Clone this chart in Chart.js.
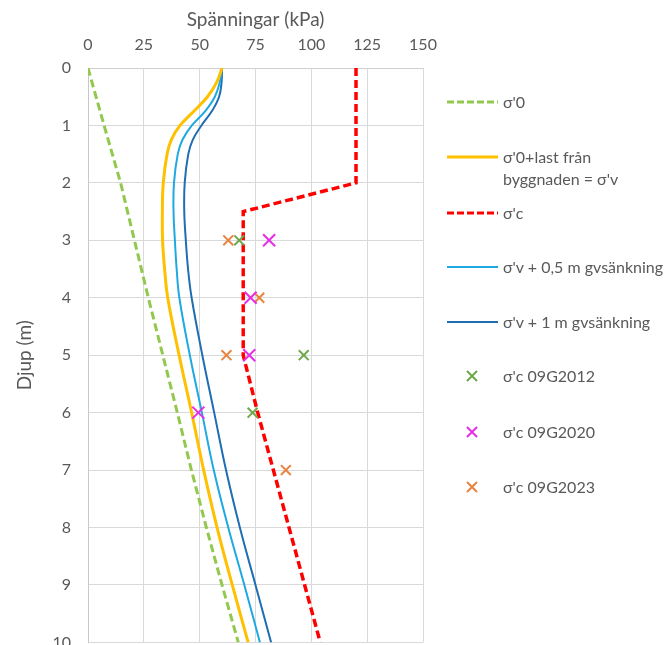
<!DOCTYPE html>
<html>
<head>
<meta charset="utf-8">
<script src="https://cdn.jsdelivr.net/npm/chart.js@4"></script>
<style>
  body { margin: 0; overflow: hidden; background: #fff; font-family: Lato, sans-serif; color: #595959; }
  #wrap { position: relative; width: 669px; height: 645px; overflow: hidden; }
  #chart { position: absolute; left: 0; top: 0; }
  .lg { position: absolute; left: 446px; height: 20px; font-size: 16px; line-height: 22px; white-space: nowrap; }
  .lg svg { position: absolute; left: 0; top: 0; }
  .lg span { position: absolute; left: 57px; top: 0; }
</style>
</head>
<body>
<div id="wrap">
  <canvas id="chart" width="669" height="669"></canvas>

  <div class="lg" style="top:91px">
    <svg width="54" height="22"><line x1="1" y1="11" x2="52" y2="11" stroke="#92c84e" stroke-width="3" stroke-dasharray="7,3"/></svg>
    <span>σ'0</span>
  </div>
  <div class="lg" style="top:146px">
    <svg width="54" height="22"><line x1="1" y1="11" x2="52" y2="11" stroke="#ffc000" stroke-width="3"/></svg>
    <span>σ'0+last från<br>byggnaden = σ'v</span>
  </div>
  <div class="lg" style="top:202px">
    <svg width="54" height="22"><line x1="1" y1="11" x2="52" y2="11" stroke="#ff0000" stroke-width="3" stroke-dasharray="7,3"/></svg>
    <span>σ'c</span>
  </div>
  <div class="lg" style="top:256px">
    <svg width="54" height="22"><line x1="1" y1="11" x2="52" y2="11" stroke="#1ea9e1" stroke-width="2"/></svg>
    <span>σ'v + 0,5 m gvsänkning</span>
  </div>
  <div class="lg" style="top:311px">
    <svg width="54" height="22"><line x1="1" y1="11" x2="52" y2="11" stroke="#1f6db3" stroke-width="2"/></svg>
    <span>σ'v + 1 m gvsänkning</span>
  </div>
  <div class="lg" style="top:365px">
    <svg width="54" height="22"><path d="M21 6 L31 16 M31 6 L21 16" stroke="#6fa84a" stroke-width="2"/></svg>
    <span>σ'c 09G2012</span>
  </div>
  <div class="lg" style="top:421px">
    <svg width="54" height="22"><path d="M21 6 L31 16 M31 6 L21 16" stroke="#e62ee6" stroke-width="2"/></svg>
    <span>σ'c 09G2020</span>
  </div>
  <div class="lg" style="top:476px">
    <svg width="54" height="22"><path d="M21 6 L31 16 M31 6 L21 16" stroke="#e8843f" stroke-width="2"/></svg>
    <span>σ'c 09G2023</span>
  </div>
</div>

<script>
// depth (m) and stress (kPa)
const xTicks = [0, 25, 50, 75, 100, 125, 150];
const depthTicks = [0, 1, 2, 3, 4, 5, 6, 7, 8, 9, 10];

const sigma0Depth = [0, 1, 2, 3, 4, 5, 6, 7, 8, 9, 10];
const sigma0 = [0, 7.2, 14.6, 20.8, 27, 33.5, 40, 46.3, 53, 60, 67.3];

const sigmaVDepth = [0, 0.25, 0.5, 0.75, 1, 1.25, 1.5, 2, 2.5, 3, 3.5, 4, 5, 6, 7, 8, 9, 10];
const sigmaV = [60, 57.6, 53.5, 47.5, 41.2, 37.3, 35.4, 33.7, 33.3, 33.4, 34.3, 35.7, 40.8, 46.4, 51.8, 57.8, 64.6, 71.7];
const sigmaV05 = [60, 59, 56.8, 52.5, 46.5, 42.3, 40.2, 38.5, 38.3, 38.9, 39.7, 40.9, 45.6, 51, 56.3, 62.8, 70, 77];
const sigmaV1 = [60, 59.8, 58.7, 55.5, 50.8, 46.9, 44.9, 43.3, 43.1, 43.8, 44.8, 46.4, 51.2, 56.5, 61.8, 68, 75, 82];

const sigmaCDepth = [0, 2, 2.5, 5, 6, 7, 8, 9, 10];
const sigmaC = [120, 120, 69.5, 69.5, 76, 83, 90, 97, 104];

const g2012Depth = [3, 5, 6];
const g2012 = [67.7, 96.6, 73.7];
const g2020Depth = [3, 4, 5, 6];
const g2020 = [81.1, 72.8, 72.2, 49.4];
const g2023Depth = [3, 4, 5, 7];
const g2023 = [62.8, 76.7, 62, 88.6];

function pts(xs, ds) {
  return xs.map((v, i) => ({ x: v, y: ds[i] }));
}

Chart.defaults.font.family = "Lato, sans-serif";
Chart.defaults.font.size = 15;
Chart.defaults.color = "#595959";

const lineDs = (label, xs, ds, color, width, dash, tension) => ({
  label, data: pts(xs, ds), showLine: true, borderColor: color, backgroundColor: color,
  borderWidth: width, borderDash: dash, pointRadius: 0, tension, fill: false
});
const markDs = (label, xs, ds, color, r) => ({
  label, data: pts(xs, ds), showLine: false, pointStyle: "crossRot",
  pointRadius: r, pointBorderWidth: 2, borderColor: color, backgroundColor: color
});

new Chart(document.getElementById("chart"), {
  type: "scatter",
  data: {
    datasets: [
      markDs("σ'c 09G2012", g2012, g2012Depth, "#6fa84a", 7),
      markDs("σ'c 09G2020", g2020, g2020Depth, "#e62ee6", 8.5),
      markDs("σ'c 09G2023", g2023, g2023Depth, "#e8843f", 7),
      lineDs("σ'0", sigma0, sigma0Depth, "#92c84e", 3, [8, 4], 0),
      lineDs("σ'0+last från byggnaden = σ'v", sigmaV, sigmaVDepth, "#ffc000", 3, [], 0.4),
      lineDs("σ'c", sigmaC, sigmaCDepth, "#ff0000", 3.5, [8, 4], 0),
      lineDs("σ'v + 0,5 m gvsänkning", sigmaV05, sigmaVDepth, "#1ea9e1", 2, [], 0.4),
      lineDs("σ'v + 1 m gvsänkning", sigmaV1, sigmaVDepth, "#1f6db3", 2, [], 0.4)
    ]
  },
  options: {
    responsive: false,
    animation: false,
    devicePixelRatio: 1,
    layout: { padding: { left: 0, top: 0, right: 246, bottom: 9 } },
    plugins: { legend: { display: false }, tooltip: { enabled: false } },
    scales: {
      x: {
        type: "linear", position: "top", min: 0, max: 150,
        afterBuildTicks: s => { s.ticks = xTicks.map(v => ({ value: v })); },
        afterFit: s => { s.height = 68; },
        ticks: { padding: 14, font: { size: 16 } },
        grid: { color: "#d9d9d9", drawTicks: false },
        border: { color: "#d0d0d0" },
        title: { display: true, text: "Spänningar (kPa)", font: { size: 19 }, padding: { top: 8, bottom: 0 } }
      },
      y: {
        type: "linear", reverse: true, min: 0, max: 10,
        afterBuildTicks: s => { s.ticks = depthTicks.map(v => ({ value: v })); },
        afterFit: s => { s.width = 88; },
        ticks: { padding: 17, font: { size: 16 } },
        grid: { color: "#d9d9d9", drawTicks: false },
        border: { color: "#c8c8c8" },
        title: { display: true, text: "Djup (m)", font: { size: 19 }, padding: { top: 13, bottom: 0 } }
      }
    }
  }
});
</script>
</body>
</html>
